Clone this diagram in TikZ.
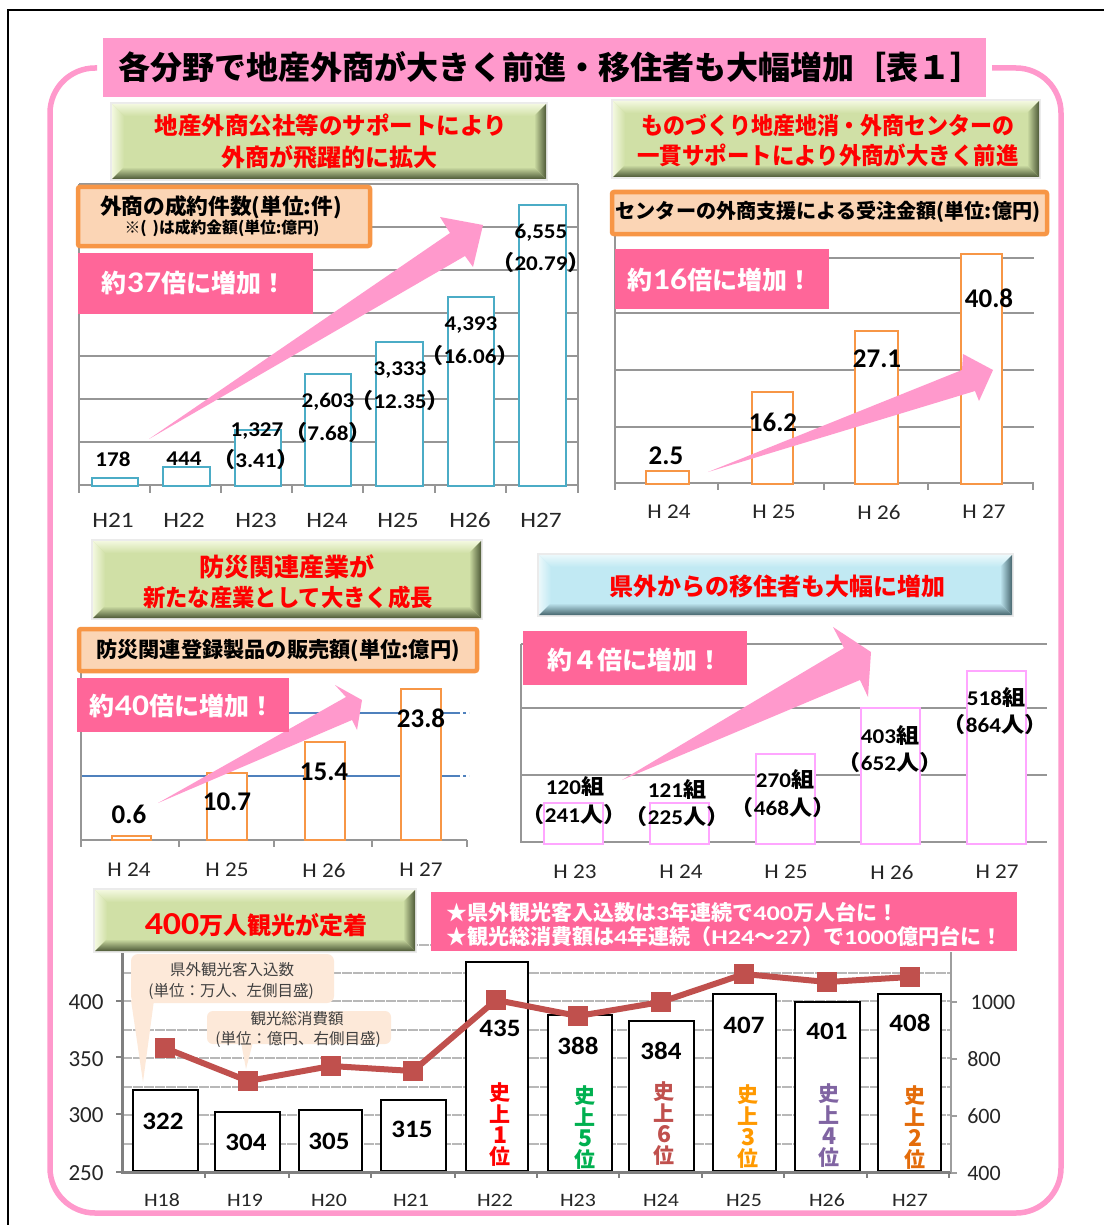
\documentclass[tikz,border=0pt]{standalone}
\usepackage{graphicx}
\usepackage{fontspec}
\setmainfont{Carlito}
\newfontfamily\jp{Noto Sans CJK JP}
\newcommand\J[1]{{\jp #1}}
\newcommand\fsz[1]{\fontsize{#1}{#1}\selectfont}
\newcommand\sx[2]{\scalebox{#1}[1]{#2}}
\definecolor{pinkA}{HTML}{FF99CC}
\definecolor{pinkB}{HTML}{FF6699}
\definecolor{orgB}{HTML}{F79646}
\definecolor{orgF}{HTML}{FBD5B5}
\definecolor{tealB}{HTML}{4BACC6}
\definecolor{violB}{HTML}{FFA6FF}
\definecolor{gridG}{HTML}{969696}
\definecolor{lineR}{HTML}{C0504D}
\definecolor{callF}{HTML}{FDE9D9}
\definecolor{greenM}{HTML}{D0E0A6}
\definecolor{greenL}{HTML}{F3F8DF}
\definecolor{greenD}{HTML}{4E5A38}
\definecolor{blueM}{HTML}{C1E9F3}
\definecolor{blueL}{HTML}{EAF8FB}
\definecolor{blueD}{HTML}{47666E}
\definecolor{blueG}{HTML}{4F81BD}
\definecolor{rkA}{HTML}{00B050}
\definecolor{rkC}{HTML}{FF9900}
\definecolor{rkD}{HTML}{8064A2}
\definecolor{rkE}{HTML}{E46C0A}
\tikzset{
  txt/.style={inner sep=0pt,outer sep=0pt,align=center},
  redhead/.style={txt,text=red,font=\bfseries\jp\fsz{#1}},
  orghead/.style={txt,text=black,font=\bfseries\jp\fsz{#1}},
  orgbox/.style={draw=orgB,line width=4.5pt,fill=orgF,rounded corners=2pt},
  pinklab/.style={fill=pinkB},
  pinktxt/.style={txt,text=white,font=\bfseries\fsz{#1}},
  gridln/.style={draw=gridG,line width=1.6pt},
  barteal/.style={draw=tealB,line width=1.6pt,fill=white},
  barorg/.style={draw=orgB,line width=1.6pt,fill=white},
  barviol/.style={draw=violB,line width=1.6pt,fill=white},
  barblk/.style={draw=black,line width=1.6pt,fill=white},
  val/.style={txt,font=\bfseries\fsz{#1}},
  axl/.style={txt,font=\fsz{#1},text=black!85},
  growarr/.style={fill=pinkA},
  rankst/.style={txt,font=\bfseries\jp\fsz{21},text=#1},
  rankdg/.style={txt,font=\bfseries\jp\fsz{23},text=#1},
  calltxt/.style={txt,font=\jp\fsz{15.5},text=black!75},
  mk/.style={fill=lineR,minimum size=20pt,inner sep=0pt,draw=none}
}
% x1 y1 x2 y2 main light dark
\newcommand\bevelbox[7]{%
  \fill[black!8] (#1-2,#2-2) rectangle (#3+2,#4+2);
  \fill[#5] (#1,#2) rectangle (#3,#4);
  \shade[top color=#6,bottom color=#5] (#1,#2)--(#3,#2)--(#3-12,#2+12)--(#1+12,#2+12)--cycle;
  \shade[left color=#6,right color=#5] (#1,#2)--(#1+12,#2+12)--(#1+12,#4-12)--(#1,#4)--cycle;
  \shade[left color=#5,right color=#7] (#3,#2)--(#3-12,#2+12)--(#3-12,#4-12)--(#3,#4)--cycle;
  \shade[top color=#5,bottom color=#7] (#1,#4)--(#1+12,#4-12)--(#3-12,#4-12)--(#3,#4)--cycle;
}
\newcommand\rankv[6]{% colour x y-first digit step name
  \node[rankst=#1] (#6a) at (#2,#3) {史};
  \node[rankst=#1] (#6b) at (#2,#3+#5) {上};
  \node[rankdg=#1] (#6c) at (#2,#3+2*#5) {#4};
  \node[rankst=#1] (#6d) at (#2,#3+3*#5) {位};
}
\newcommand\bigx[2]{{\fsz{25}\J{約}{\fsz{30}\sx{1.12}{#1}}\J{倍に増加！}}}
\begin{document}
\begin{tikzpicture}[x=1pt,y=-1pt]
\useasboundingbox (0,0) rectangle (1104,1225);
\fill[white] (0,0) rectangle (1104,1225);
% black page frame
\draw[black,line width=2pt] (8,1225) -- (8,10) -- (1104,10);
% pink frame
\draw[pinkA,line width=5.5pt,rounded corners=45pt] (97,68) -- (50,68) -- (50,1213) -- (1061,1213) -- (1061,68) -- (992,68);
% title
\fill[pinkA] (103,38) rectangle (986,97);
\node[orghead=32] (title) at (550,67) {各分野で地産外商が大きく前進・移住者も大幅増加［表１］};

%% chart 1
\foreach \y in {184,227,270,313,356,399,442} \draw[gridln] (79,\y) -- (578,\y);
\draw[gridln] (79,184) -- (79,485) -- (578,485) -- (578,184);
\foreach \x in {79,150,221,292,363,435,506,578} \draw[gridln] (\x,485) -- (\x,493);
\foreach \a/\b/\t in {92/138/478,163/210/467,235/281/430,305/351/374,376/423/342,448/494/297,519/566/205}
  \draw[barteal] (\a,\t) rectangle (\b,486);
\fill[growarr] (149,439) -- (450,233) -- (440,217) -- (483,225) -- (473,267) -- (465,256) -- cycle;
\bevelbox{112}{104}{546}{179}{greenM}{greenL}{greenD}
\node[redhead=23.5] (h1a) at (331,125) {地産外商公社等のサポートにより};
\node[redhead=24] (h1b) at (329,157) {外商が飛躍的に拡大};
\draw[orgbox] (78,187) rectangle (370,246);
\node[orghead=21.7] (o1a) at (221,207) {外商の成約件数(単位:件)};
\node[orghead=15.8] (o1b) at (222,228) {※(\hspace{6pt})は成約金額(単位:億円)};
\fill[pinklab] (78,253) rectangle (313,314);
\node[pinktxt=25] (l1) at (194,283) {\bigx{37}{}};
\node[val=21] (v11) at (113,459) {\sx{1.1}{178}};
\node[val=21] (v12) at (184,459) {\sx{1.1}{444}};
\node[val=21] (v13a) at (257,431) {\sx{1.1}{1,327}};
\node[val=21] (v13b) at (256,460) {\sx{1.1}{\J{（}3.41\J{）}}};
\node[val=21] (v14a) at (328,402) {\sx{1.1}{2,603}};
\node[val=21] (v14b) at (328,433) {\sx{1.1}{\J{（}7.68\J{）}}};
\node[val=21] (v15a) at (400,370) {\sx{1.1}{3,333}};
\node[val=21] (v15b) at (400,401) {\sx{1.1}{\hspace{-8pt}\J{（}12.35\J{）}\hspace{-8pt}}};
\node[val=21] (v16a) at (471,325) {\sx{1.1}{4,393}};
\node[val=21] (v16b) at (470,356) {\sx{1.1}{\J{（}16.06\J{）}}};
\node[val=21] (v17a) at (541,233) {\sx{1.1}{6,555}};
\node[val=21] (v17b) at (541,263) {\sx{1.1}{\J{（}20.79\J{）}}};
\foreach \x/\t in {113/21,184/22,256/23,327/24,398/25,470/26,541/27}
  \node[axl=22] (a1\t) at (\x,520) {\sx{1.15}{H\t}};

%% chart 2
\foreach \y in {258,313,370,427} \draw[gridln] (615,\y) -- (1034,\y);
\draw[gridln] (615,236) -- (615,483) -- (1034,483);
\foreach \x in {615,718,824,928,1033} \draw[gridln] (\x,483) -- (\x,490);
\foreach \a/\b/\t in {646/689/471,752/793/392,855/898/331,961/1002/254}
  \draw[barorg] (\a,\t) rectangle (\b,484);
\fill[growarr] (708,472) -- (962,370) -- (963,354) -- (993,370) -- (979,401) -- (975,391) -- cycle;
\bevelbox{613}{101}{1039}{177}{greenM}{greenL}{greenD}
\node[redhead=23.5] (h2a) at (828,125) {\sx{0.935}{ものづくり地産地消・外商センターの}};
\node[redhead=23.5] (h2b) at (828,155) {\sx{0.955}{一貫サポートにより外商が大きく前進}};
\draw[orgbox] (612,192) rectangle (1047,234);
\node[orghead=20.1] (o2) at (828,212) {センターの外商支援による受注金額(単位:億円)};
\fill[pinklab] (615,249) rectangle (829,309);
\node[pinktxt=25] (l2) at (720,280) {\bigx{16}{}};
\node[val=27] (v21) at (666,456) {2.5};
\node[val=27] (v22) at (773,422) {16.2};
\node[val=27] (v23) at (877,359) {27.1};
\node[val=27] (v24) at (989,298) {40.8};
\foreach \x/\t in {669/24,774/25,879/26,984/27}
  \node[axl=21] (a2\t) at (\x,512) {\sx{1.1}{H \t}};

%% chart 3
\foreach \y in {713,776} {
  \draw[draw=blueG,line width=1.5pt] (81,\y) -- (457,\y);
  \draw[draw=blueG,line width=1.5pt,dash pattern=on 3pt off 3pt] (457,\y) -- (469,\y);
}
\draw[gridln] (81,673) -- (81,840) -- (467,840);
\foreach \x in {81,179,274,372,467} \draw[gridln] (\x,840) -- (\x,847);
\foreach \a/\b/\t in {112/151/836,207/247/773,305/345/742,401/441/689}
  \draw[barorg] (\a,\t) rectangle (\b,840);
\fill[growarr] (158,803) -- (346,697) -- (335,685) -- (362,700) -- (357,730) -- (352,720) -- cycle;
\bevelbox{93}{541}{481}{618}{greenM}{greenL}{greenD}
\node[redhead=25] (h3a) at (287,567) {防災関連産業が};
\node[redhead=23.5] (h3b) at (288,598) {\sx{0.95}{新たな産業として大きく成長}};
\draw[orgbox] (79,629) rectangle (477,671);
\node[orghead=21.2] (o3) at (278,651) {防災関連登録製品の販売額(単位:億円)};
\fill[pinklab] (77,678) rectangle (289,732);
\node[pinktxt=25] (l3) at (182,706) {\bigx{40}{}};
\node[val=27] (v31) at (129,814) {0.6};
\node[val=27] (v32) at (227,802) {10.7};
\node[val=27] (v33) at (324,772) {15.4};
\node[val=27] (v34) at (421,718) {23.8};
\foreach \x/\t in {129/24,227/25,324/26,421/27}
  \node[axl=21] (a3\t) at (\x,870) {\sx{1.1}{H \t}};

%% chart 4
\foreach \y in {644,708,775} \draw[gridln] (521,\y) -- (1047,\y);
\draw[gridln] (521,644) -- (521,842) -- (1047,842);
\foreach \a/\b/\t in {544/603/803,650/709/803,756/815/754,861/920/708,967/1026/671}
  \draw[barviol] (\a,\t) rectangle (\b,844);
\fill[growarr] (622,780) -- (844,648) -- (833,627) -- (871,652) -- (868,697) -- (860,680) -- cycle;
\bevelbox{539}{555}{1012}{615}{blueM}{blueL}{blueD}
\node[redhead=24] (h4) at (777,586) {県外からの移住者も大幅に増加};
\fill[pinklab] (523,631) rectangle (747,685);
\node[pinktxt=25] (l4) at (635,660) {\J{約４倍に増加！}};
\node[val=21] (v41a) at (575,787) {\sx{1.1}{120\J{組}}};
\node[val=21] (v41b) at (574,815) {\sx{1.1}{\J{（}241\J{人）}}};
\node[val=21] (v42a) at (677,790) {\sx{1.1}{121\J{組}}};
\node[val=21] (v42b) at (677,817) {\sx{1.1}{\J{（}225\J{人）}}};
\node[val=21] (v43a) at (785,780) {\sx{1.1}{270\J{組}}};
\node[val=21] (v43b) at (783,808) {\sx{1.1}{\J{（}468\J{人）}}};
\node[val=21] (v44a) at (890,736) {\sx{1.1}{403\J{組}}};
\node[val=21] (v44b) at (890,763) {\sx{1.1}{\J{（}652\J{人）}}};
\node[val=21] (v45a) at (996,698) {\sx{1.1}{518\J{組}}};
\node[val=21] (v45b) at (995,725) {\sx{1.1}{\J{（}864\J{人）}}};
\foreach \x/\t in {575/23,681/24,786/25,892/26,997/27}
  \node[axl=21] (a4\t) at (\x,872) {\sx{1.1}{H \t}};

%% chart 5
\foreach \y in {945,973,1001,1030,1058,1087,1115,1144}
  \draw[draw=black!28,line width=1.5pt,dash pattern=on 10pt off 1pt] (122,\y) -- (951,\y);
% callouts
\fill[callF,rounded corners=7pt] (131,954) rectangle (334,1003);
\fill[callF] (131,1000) -- (154,1000) -- (143,1082) -- cycle;
\fill[callF,rounded corners=6pt] (207,1011) rectangle (391,1044);
\fill[callF] (241,1042) -- (253,1042) -- (246,1069) -- cycle;
\foreach \a/\b/\t in {133/198/1090,215/280/1112,299/362/1110,381/446/1100,466/528/962,548/612/1015,629/694/1021,713/776/994,795/860/1002,878/941/994}
  \draw[barblk] (\a,\t) rectangle (\b,1171);
\draw[draw=black!50,line width=3pt] (122.5,952) -- (122.5,1172) -- (951,1172);
\draw[draw=black!38,line width=2pt] (951,952) -- (951,1172);
\foreach \y in {1001,1057,1114,1172} \draw[draw=black!50,line width=1.6pt] (116,\y) -- (122,\y);
\foreach \y in {1002,1059,1116,1173} \draw[draw=black!38,line width=1.6pt] (951,\y) -- (957,\y);
\foreach \x in {205,289,371,455,537,619,702,784,867,949} \draw[draw=black!50,line width=2pt] (\x,1172) -- (\x,1178);
\node[calltxt] (c1a) at (232,970) {県外観光客入込数};
\node[calltxt] (c1b) at (231,991) {(単位：万人、左側目盛)};
\node[calltxt] (c2a) at (297,1019) {観光総消費額};
\node[calltxt] (c2b) at (298,1039) {(単位：億円、右側目盛)};
% line
\foreach \n/\x/\y in {1/165/1048,2/248/1081,3/331/1066,4/413/1071,5/496/1000,6/578/1016,7/661/1002,8/744/974,9/827/982,10/910/977}
  \node[mk] (m\n) at (\x,\y) {};
\draw[lineR,line width=6pt] (m1.center) -- (m2.center) -- (m3.center) -- (m4.center) -- (m5.center) -- (m6.center) -- (m7.center) -- (m8.center) -- (m9.center) -- (m10.center);
\foreach \n/\t/\x/\y in {1/322/163/1121,2/304/246/1142,3/305/329/1141,4/315/412/1129,5/435/500/1028,6/388/578/1046,7/384/661/1051,8/407/744/1025,9/401/827/1031,10/408/910/1023}
  \node[val=25] (n\n) at (\x,\y) {\sx{1.08}{\t}};
\rankv{red}{500}{1093}{1}{21.3}{r1}
\rankv{rkA}{585}{1096}{5}{21}{r5}
\rankv{lineR}{664}{1092}{6}{21}{r6}
\rankv{rkC}{748}{1095}{3}{21}{r3}
\rankv{rkD}{829}{1094}{4}{21}{r4}
\rankv{rkE}{915}{1096}{2}{21}{r2}
\foreach \t/\y in {400/1002,350/1059,300/1115,250/1173}
  \node[axl=23] (yl\t) at (86,\y) {\t};
\foreach \t/\y/\x in {1000/1002/993,800/1059/984,600/1116/984,400/1173/984}
  \node[axl=22] (yr\t) at (\x,\y) {\t};
\foreach \x/\t in {162/18,245/19,329/20,411/21,495/22,578/23,661/24,744/25,827/26,910/27}
  \node[axl=19] (a5\t) at (\x,1200) {\sx{1.15}{H\t}};
\bevelbox{95}{890}{415}{951}{greenM}{greenL}{greenD}
\node[txt,text=red,font=\bfseries] (h5) at (256,925) {{\fsz{32}\sx{1.12}{400}}{\fsz{24}\J{万人観光が定着}}};
\fill[pinklab] (431,892) rectangle (1017,951);
\node[pinktxt=21,anchor=west] (l5a) at (446,912) {\J{★県外観光客入込数は}\sx{1.25}{3}\J{年連続で}\sx{1.25}{400}\J{万人台に！}};
\node[pinktxt=21,anchor=west] (l5b) at (446,936) {\J{★観光総消費額は}\sx{1.25}{4}\J{年連続（}\sx{1.25}{H24}\J{～}\sx{1.25}{27}\J{）で}\sx{1.25}{1000}\J{億円台に！}};
\end{tikzpicture}
\end{document}
